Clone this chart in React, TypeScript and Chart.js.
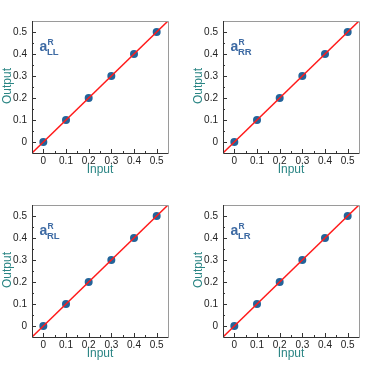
import React, { useEffect, useRef } from 'react';
import { Chart, registerables } from 'chart.js';
Chart.register(...registerables);

const inputValues = [0, 0.1, 0.2, 0.3, 0.4, 0.5];
const outputLL = [0, 0.1, 0.2, 0.3, 0.4, 0.5];
const outputRR = [0, 0.1, 0.2, 0.3, 0.4, 0.5];
const outputRL = [0, 0.1, 0.2, 0.3, 0.4, 0.5];
const outputLR = [0, 0.1, 0.2, 0.3, 0.4, 0.5];
const lineX = [-0.05, 0.55];
const lineY = [-0.05, 0.55];
const tickValues = [0, 0.1, 0.2, 0.3, 0.4, 0.5];
const tickLabels = ['0', '0.1', '0.2', '0.3', '0.4', '0.5'];
const minorTickValues = [0.05, 0.15, 0.25, 0.35, 0.45];
const axisMin = -0.05;
const axisMax = 0.55;
const xTitle = 'Input';
const yTitle = 'Output';
const panelSubs = ['LL', 'RR', 'RL', 'LR'];
const panelOutputs = [outputLL, outputRR, outputRL, outputLR];

const W = 191;
const H = 184;
const FONT = '"Liberation Sans", Arial, Helvetica, sans-serif';

function makePlugin(sub: string) {
  return {
    id: 'decor',
    afterDatasetsDraw(chart: any) {
      const ctx = chart.ctx as CanvasRenderingContext2D;
      const { left, right, top, bottom } = chart.chartArea;
      const xs = chart.scales.x;
      const ys = chart.scales.y;
      ctx.save();
      // frame
      ctx.lineWidth = 1;
      ctx.strokeStyle = '#9a9a9a';
      ctx.beginPath();
      ctx.moveTo(left, top + 0.5);
      ctx.lineTo(right + 0.5, top + 0.5);
      ctx.lineTo(right + 0.5, bottom);
      ctx.stroke();
      ctx.strokeStyle = '#333';
      ctx.beginPath();
      ctx.moveTo(left + 0.5, top);
      ctx.lineTo(left + 0.5, bottom + 0.5);
      ctx.lineTo(right + 0.5, bottom + 0.5);
      ctx.stroke();
      // ticks
      ctx.strokeStyle = '#333';
      ctx.beginPath();
      tickValues.forEach((v) => {
        const px = Math.round(xs.getPixelForValue(v)) + 0.5;
        ctx.moveTo(px, bottom);
        ctx.lineTo(px, bottom - 4);
        const py = Math.round(ys.getPixelForValue(v)) + 0.5;
        ctx.moveTo(left, py);
        ctx.lineTo(left + 4, py);
      });
      minorTickValues.forEach((v) => {
        const px = Math.round(xs.getPixelForValue(v)) + 0.5;
        ctx.moveTo(px, bottom);
        ctx.lineTo(px, bottom - 2);
        const py = Math.round(ys.getPixelForValue(v)) + 0.5;
        ctx.moveTo(left, py);
        ctx.lineTo(left + 2, py);
      });
      ctx.stroke();
      // titles
      ctx.fillStyle = '#2a8584';
      ctx.font = `12px ${FONT}`;
      ctx.textAlign = 'center';
      ctx.textBaseline = 'middle';
      ctx.fillText(xTitle, (left + right) / 2, 169.5);
      ctx.save();
      ctx.translate(8, 86);
      ctx.rotate(-Math.PI / 2);
      ctx.fillText(yTitle, 0, 0);
      ctx.restore();
      // annotation
      ctx.fillStyle = '#3d6aa3';
      ctx.textAlign = 'left';
      ctx.textBaseline = 'alphabetic';
      ctx.font = `bold 14px ${FONT}`;
      ctx.fillText('a', 39.5, 50.5);
      ctx.font = `bold 8.5px ${FONT}`;
      ctx.fillText('R', 47.5, 44.8);
      ctx.font = `bold 9.5px ${FONT}`;
      ctx.fillText(sub, 47, 54.5);
      ctx.restore();
    },
  };
}

function Panel({ idx }: { idx: number }) {
  const ref = useRef<HTMLCanvasElement>(null);
  useEffect(() => {
    if (!ref.current) return;
    const out = panelOutputs[idx];
    const axis = (which: 'x' | 'y') => ({
      type: 'linear' as const,
      min: axisMin,
      max: axisMax,
      afterBuildTicks: (s: any) => {
        s.ticks = tickValues.map((v) => ({ value: v }));
      },
      afterFit: (s: any) => {
        if (which === 'x') s.height = 31;
        else s.width = 32;
      },
      ticks: {
        callback: (_v: any, i: number) => tickLabels[i],
        font: { size: 10, family: FONT },
        color: '#222',
        padding: which === 'x' ? 2 : 5,
        maxRotation: 0,
        autoSkip: false,
      },
      grid: { display: false, drawTicks: false },
      border: { display: false },
    });
    const chart = new Chart(ref.current, {
      type: 'scatter',
      data: {
        datasets: [
          {
            type: 'line',
            data: lineX.map((x, i) => ({ x, y: lineY[i] })),
            borderColor: '#ff1a1a',
            borderWidth: 1.5,
            pointRadius: 0,
            showLine: true,
            fill: false,
          } as any,
          {
            data: inputValues.map((x, i) => ({ x, y: out[i] })),
            backgroundColor: '#23649a',
            borderColor: '#23649a',
            borderWidth: 0,
            pointRadius: 4,
          },
        ],
      },
      options: {
        animation: false,
        responsive: false,
        maintainAspectRatio: false,
        devicePixelRatio: 1,
        layout: { padding: { top: 21, right: 23, left: 0, bottom: 0 } },
        plugins: { legend: { display: false }, tooltip: { enabled: false } },
        scales: { x: axis('x'), y: axis('y') },
      },
      plugins: [makePlugin(panelSubs[idx])],
    });
    return () => chart.destroy();
  }, [idx]);
  return <canvas ref={ref} width={W} height={H} style={{ display: 'block', width: W, height: H }} />;
}

export default function App() {
  return (
    <div
      style={{
        position: 'absolute',
        left: 0,
        top: 0,
        width: W * 2,
        height: H * 2,
        display: 'grid',
        gridTemplateColumns: `${W}px ${W}px`,
        gridTemplateRows: `${H}px ${H}px`,
        background: '#fff',
      }}
    >
      {panelSubs.map((_, i) => (
        <Panel key={i} idx={i} />
      ))}
    </div>
  );
}
